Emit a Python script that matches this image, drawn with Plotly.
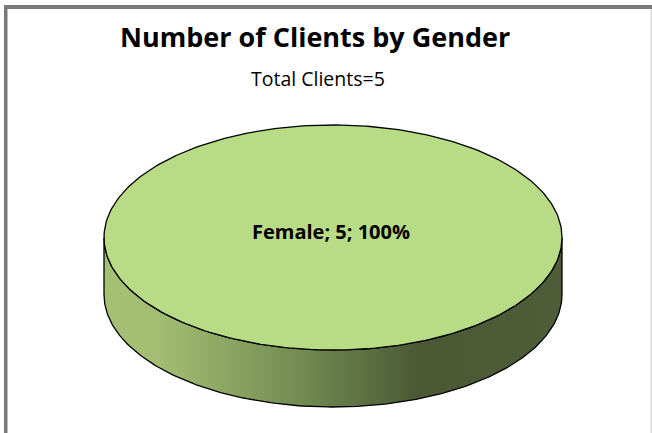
import numpy as np
import plotly.graph_objects as go

# ---- data ----
categories = ["Female"]
values = [5]
title_text = "Number of Clients by Gender"
subtitle_text = "Total Clients=" + str(sum(values))

# ---- layout constants (pixel space) ----
W, H = 652, 433
CX, CY = 333, 237.5
RX, RY = 229, 112.5
DEPTH = 57
TOP_COLOR = "#b8dc86"
FONT = "Open Sans"

fig = go.Figure()

total = float(sum(values))
start = 0.0
# side (front visible part of the disc edge) with horizontal gradient
t = np.linspace(0, np.pi, 200)
side_x = np.concatenate([CX + RX * np.cos(t), CX + RX * np.cos(t[::-1])])
side_y = np.concatenate([CY + RY * np.sin(t), CY + DEPTH + RY * np.sin(t[::-1])])
side_x = np.append(side_x, side_x[0])
side_y = np.append(side_y, side_y[0])
fig.add_trace(go.Scatter(
    x=side_x, y=side_y, mode="lines", fill="toself",
    line=dict(color="black", width=1.3),
    fillgradient=dict(
        type="horizontal", start=CX - RX, stop=CX + RX,
        colorscale=[[0.0, "#a6c176"], [0.12, "#a2bd72"], [0.43, "#728c52"],
                    [0.69, "#4a5834"], [1.0, "#4e5e38"]]),
    hoverinfo="skip", showlegend=False))

annotations = []
for cat, val in zip(categories, values):
    frac = val / total
    a = np.linspace(start, start + 2 * np.pi * frac, 300)
    xs = list(CX + RX * np.cos(a))
    ys = list(CY + RY * np.sin(a))
    if frac < 0.999:
        xs = [CX] + xs + [CX]
        ys = [CY] + ys + [CY]
    fig.add_trace(go.Scatter(
        x=xs, y=ys, mode="lines", fill="toself", fillcolor=TOP_COLOR,
        line=dict(color="black", width=1.3), name=cat,
        hoverinfo="skip", showlegend=False))
    mid = start + np.pi * frac
    r = 0.0 if frac >= 0.999 else 0.6
    annotations.append(dict(
        x=CX - 2 + r * RX * np.cos(mid), y=CY - 6 + r * RY * np.sin(mid),
        xref="x", yref="y", showarrow=False,
        text="<b>%s; %d; %d%%</b>" % (cat, val, round(frac * 100)),
        font=dict(family=FONT, size=20, color="black")))
    start += 2 * np.pi * frac

annotations.append(dict(x=314.5, y=36, xref="x", yref="y", showarrow=False,
                        text="<b>" + title_text + "</b>",
                        font=dict(family=FONT, size=27, color="black")))
annotations.append(dict(x=318, y=78, xref="x", yref="y", showarrow=False,
                        text=subtitle_text,
                        font=dict(family=FONT, size=19.5, color="black")))

shapes = [
    dict(type="rect", xref="x", yref="y", x0=4, x1=7.5, y0=5, y1=H,
         fillcolor="#7a7a7a", line=dict(width=0)),
    dict(type="rect", xref="x", yref="y", x0=4, x1=W, y0=5, y1=9,
         fillcolor="#7a7a7a", line=dict(width=0)),
    dict(type="line", xref="x", yref="y", x0=651.2, x1=651.2, y0=9, y1=H,
         line=dict(color="#d0d0d0", width=1.2)),
]

fig.update_layout(
    width=W, height=H, margin=dict(l=0, r=0, t=0, b=0),
    paper_bgcolor="white", plot_bgcolor="white",
    xaxis=dict(range=[0, W], visible=False, fixedrange=True),
    yaxis=dict(range=[H, 0], visible=False, fixedrange=True),
    annotations=annotations, shapes=shapes, showlegend=False,
)
fig.write_html("out.html", config={"displayModeBar": False},
               post_script="document.body.style.margin='0';"
                           "document.body.style.overflow='hidden';")
